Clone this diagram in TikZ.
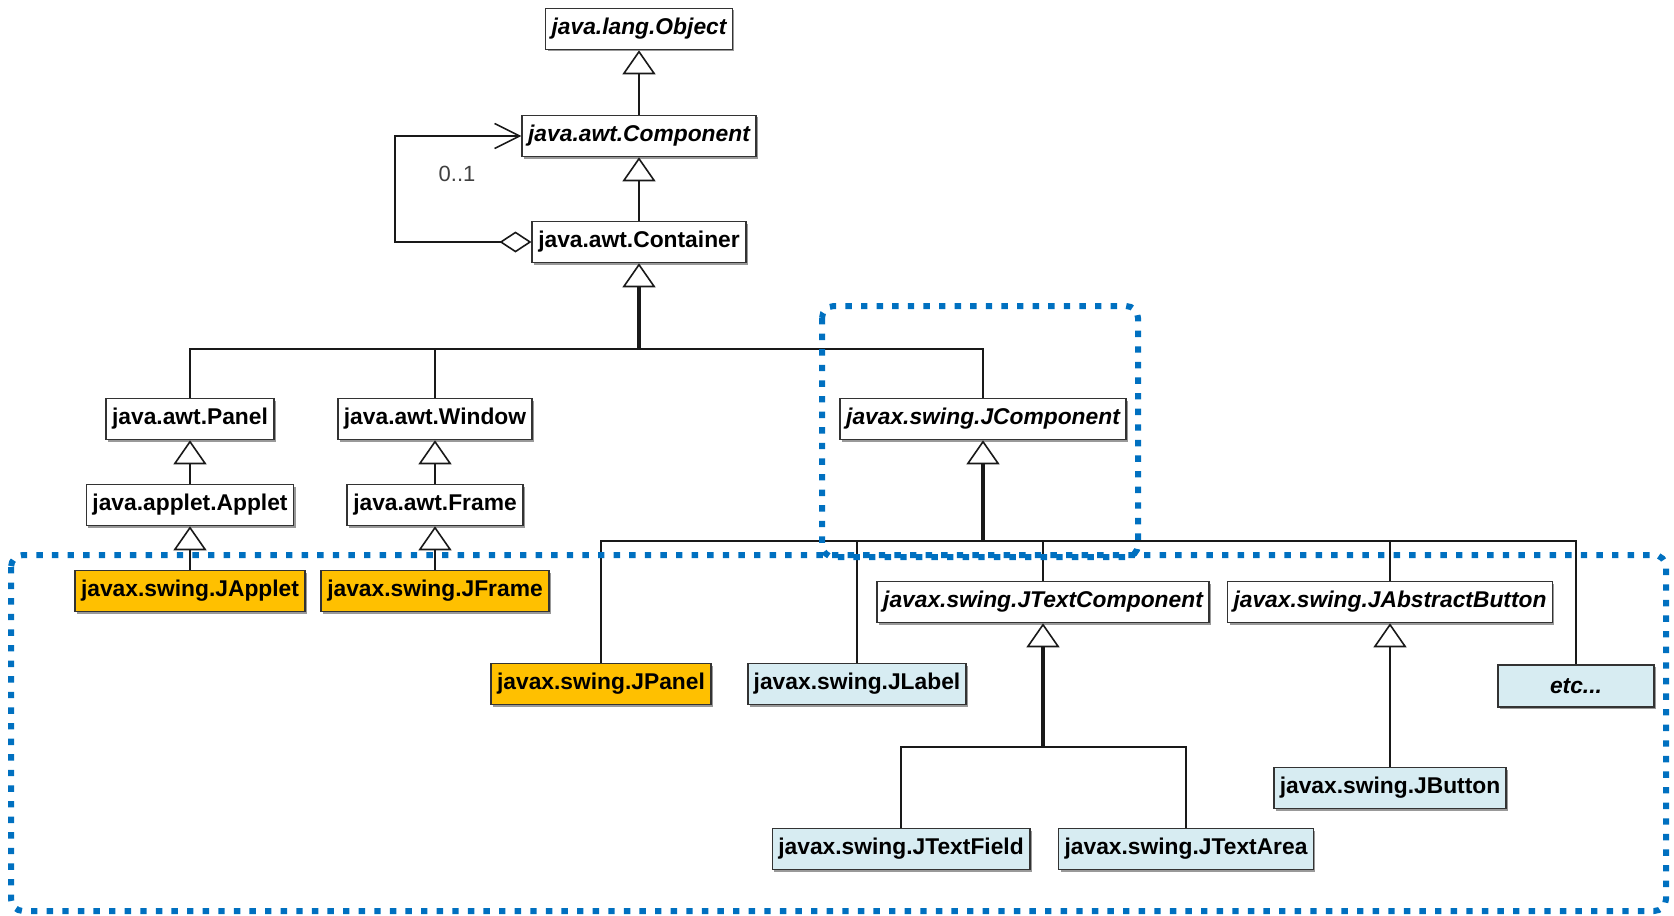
\documentclass[tikz,border=0pt]{standalone}
\usepackage{fontspec}
\setmainfont{Liberation Sans}
\usepackage{tikz}
\usetikzlibrary{arrows.meta,shadows}
\definecolor{swingorange}{RGB}{255,192,0}
\definecolor{swingblue}{RGB}{215,236,242}
\definecolor{grpblue}{RGB}{0,112,192}

\begin{document}
\begin{tikzpicture}[x=0.5pt, y=-0.5pt,
      it/.style={font=\fontsize{11.4}{13}\selectfont\bfseries\itshape},
      cls/.style={draw=black!80, line width=0.8pt, fill=white, minimum height=20.5pt,
        inner xsep=3pt, inner ysep=0pt, font=\fontsize{11.4}{13}\selectfont\bfseries,
        drop shadow={shadow xshift=1pt, shadow yshift=-1pt, fill=black!40, opacity=1}},
      abstr/.style={cls, it},
      jorange/.style={cls, fill=swingorange},
      jblue/.style={cls, fill=swingblue},
      rel/.style={line width=1pt, draw=black!90},
      trunk/.style={rel, line width=1.6pt},
      gen/.style={-{Triangle[open, length=12pt, width=16.5pt, line width=0.8pt]}},
      grp/.style={draw=grpblue, line width=3pt, dash pattern=on 3.2pt off 4.6pt, rounded corners=6pt}]
    \useasboundingbox (0,0) rectangle (1674,915);
    % java.awt part
    \node[abstr] (object) at (639,29) {java.lang.Object};
    \node[abstr] (component) at (639,136) {java.awt.Component};
    \node[cls] (container) at (639,242) {java.awt.Container};
    \node[cls] (panel) at (190,419) {java.awt.Panel};
    \node[cls] (applet) at (190,505) {java.applet.Applet};
    \node[jorange] (japplet) at (190,591) {javax.swing.JApplet};
    \node[cls] (window) at (435,419) {java.awt.Window};
    \node[cls] (frame) at (435,505) {java.awt.Frame};
    \node[jorange] (jframe) at (435,591) {javax.swing.JFrame};
    % swing part
    \node[abstr] (jcomp) at (983,419) {javax.swing.JComponent};
    \node[jorange] (jpanel) at (601,684) {javax.swing.JPanel};
    \node[jblue] (jlabel) at (857,684) {javax.swing.JLabel};
    \node[abstr] (jtextcomp) at (1043,602) {javax.swing.JTextComponent};
    \node[abstr] (jabsbtn) at (1390,602) {javax.swing.JAbstractButton};
    \node[jblue, it, minimum width=78pt, minimum height=21pt] (etc) at (1576,686) {etc...};
    \node[jblue] (jtextfield) at (901,849) {javax.swing.JTextField};
    \node[jblue] (jtextarea) at (1186,849) {javax.swing.JTextArea};
    \node[jblue] (jbutton) at (1390,788) {javax.swing.JButton};
    \node[font=\fontsize{11}{13}\selectfont, text=black!75] (mult) at (457,174) {0..1};
    % bus points
    \coordinate (busA) at (639,349);
    \coordinate (busB) at (983,541);
    \coordinate (busC) at (1043,747);
    \coordinate (loopL) at (395,190);
    % inheritance
    \draw[rel, gen] (component.north) -- (object.south);
    \draw[rel, gen] (container.north) -- (component.south);
    \draw[trunk, gen] (busA) -- (container.south);
    \draw[rel] (panel.north) |- (busA) -| (jcomp.north);
    \draw[rel] (window.north) -- (window.north |- busA);
    \draw[rel, gen] (applet.north) -- (panel.south);
    \draw[rel, gen] (japplet.north) -- (applet.south);
    \draw[rel, gen] (frame.north) -- (window.south);
    \draw[rel, gen] (jframe.north) -- (frame.south);
    \draw[trunk, gen] (busB) -- (jcomp.south);
    \draw[rel] (jpanel.north) |- (busB) -| (etc.north);
    \draw[rel] (jlabel.north) -- (jlabel.north |- busB);
    \draw[rel] (jtextcomp.north) -- (jtextcomp.north |- busB);
    \draw[rel] (jabsbtn.north) -- (jabsbtn.north |- busB);
    \draw[trunk, gen] (busC) -- (jtextcomp.south);
    \draw[rel] (jtextfield.north) |- (busC) -| (jtextarea.north);
    \draw[rel, gen] (jbutton.north) -- (jabsbtn.south);
    % aggregation
    \draw[rel, {Diamond[open, length=16pt, width=10.5pt, line width=0.8pt]}-{Straight Barb[length=12.5pt, width=12.5pt, line width=0.8pt]}]
      (container.west) -| (loopL) |- (component.west);
    % groups
    \draw[grp] (822,306) rectangle (1138,557);
    \draw[grp] (11,555) rectangle (1666,911);
  \end{tikzpicture}
\end{document}
